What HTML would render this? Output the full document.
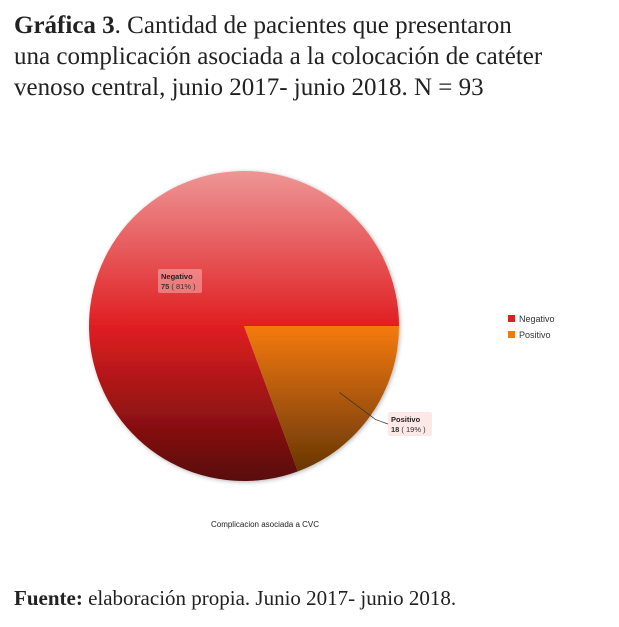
<!DOCTYPE html>
<html><head><meta charset="utf-8"><style>
body{margin:0;width:619px;height:627px;background:#fff;overflow:hidden;font-family:"Liberation Serif",serif;}
.title{position:absolute;left:14px;top:10px;font-size:25px;line-height:31px;color:#222;}
.src{position:absolute;left:14px;top:586px;font-size:21px;color:#222;}
svg{position:absolute;left:0;top:0;}
</style></head><body>
<div class="title"><b>Gráfica 3</b>. Cantidad de pacientes que presentaron<br>una complicación asociada a la colocación de catéter<br>venoso central, junio 2017- junio 2018. N = 93</div>
<svg width="619" height="627">
<defs>
<linearGradient id="gNeg" gradientUnits="userSpaceOnUse" x1="0" y1="171" x2="0" y2="481">
<stop offset="0" stop-color="#ee9595"/><stop offset="0.5" stop-color="#e01f22"/><stop offset="1" stop-color="#580808"/></linearGradient>
<linearGradient id="gPos" gradientUnits="userSpaceOnUse" x1="0" y1="326" x2="0" y2="481">
<stop offset="0" stop-color="#f57a0e"/><stop offset="1" stop-color="#5e3204"/></linearGradient>
<filter id="sh"><feDropShadow dx="1" dy="1" stdDeviation="2" flood-opacity="0.3"/></filter>
</defs>
<g id="slices" filter="url(#sh)"></g>
<g id="labels"></g>
<g>
<rect x="508" y="315" width="7" height="7" fill="#e01f22"/>
<text x="519" y="322" font-family="Liberation Sans" font-size="9" fill="#333">Negativo</text>
<rect x="508" y="331" width="7" height="7" fill="#f07a10"/>
<text x="519" y="338" font-family="Liberation Sans" font-size="9" fill="#333">Positivo</text>
</g>
<text x="265" y="527" text-anchor="middle" font-family="Liberation Sans" font-size="8" fill="#222">Complicacion asociada a CVC</text>
</svg>
<div class="src"><b>Fuente:</b> elaboración propia. Junio 2017- junio 2018.</div>
<script>
const categories=["Negativo","Positivo"];
const values=[75,18];
const fills=["url(#gNeg)","url(#gPos)"];
const cx=244,cy=326,r=155;
const total=values.reduce((a,b)=>a+b,0);
const ns="http://www.w3.org/2000/svg";
const sg=document.getElementById('slices'),lg=document.getElementById('labels');
// Positivo starts at 3 o'clock, clockwise; Negativo fills the rest
let start=values[1]/total*2*Math.PI; // angle measured clockwise from east
const order=[0,1];
let angles=[];
let a0=start;
for(const i of order){
  const sweep=values[i]/total*2*Math.PI;
  let s,e;
  if(i===1){s=0;e=sweep;}else{s=values[1]/total*2*Math.PI;e=2*Math.PI;}
  angles[i]=[s,e];
  const x1=cx+r*Math.cos(s),y1=cy+r*Math.sin(s),x2=cx+r*Math.cos(e),y2=cy+r*Math.sin(e);
  const large=(e-s)>Math.PI?1:0;
  const p=document.createElementNS(ns,'path');
  p.setAttribute('d',`M${cx},${cy}L${x1},${y1}A${r},${r} 0 ${large} 1 ${x2},${y2}Z`);
  p.setAttribute('fill',fills[i]);
  
  
  sg.appendChild(p);
}
function label(i,bx,by,line){
  const g=document.createElementNS(ns,'g');
  
  
  if(line){const l=document.createElementNS(ns,'polyline');
    l.setAttribute('points',line);l.setAttribute('fill','none');l.setAttribute('stroke','#333');l.setAttribute('stroke-width','0.7');g.appendChild(l);}
  const rc=document.createElementNS(ns,'rect');
  rc.setAttribute('x',bx);rc.setAttribute('y',by);rc.setAttribute('width',44);rc.setAttribute('height',24);rc.setAttribute('rx',2);
  rc.setAttribute('fill',i===0?'rgba(255,200,200,0.45)':'#fde8e8');g.appendChild(rc);
  const t1=document.createElementNS(ns,'text');t1.setAttribute('x',bx+3);t1.setAttribute('y',by+10);
  t1.setAttribute('font-family','Liberation Sans');t1.setAttribute('font-size','7.5');t1.setAttribute('font-weight','bold');t1.setAttribute('fill','#222');
  t1.textContent=categories[i];g.appendChild(t1);
  const t2=document.createElementNS(ns,'text');t2.setAttribute('x',bx+3);t2.setAttribute('y',by+20);
  t2.setAttribute('font-family','Liberation Sans');t2.setAttribute('font-size','7.5');t2.setAttribute('fill','#333');
  t2.innerHTML='<tspan font-weight="bold">'+values[i]+'</tspan> ( '+Math.round(values[i]/total*100)+'% )';g.appendChild(t2);
  lg.appendChild(g);
}
label(0,158,269,null);
const mid=(angles[1][0]+angles[1][1])/2;
const px=cx+r*0.75*Math.cos(mid),py=cy+r*0.75*Math.sin(mid);
label(1,388,412,`${px},${py} ${px+36},${py+27} 388,424`);
</script>
</body></html>
